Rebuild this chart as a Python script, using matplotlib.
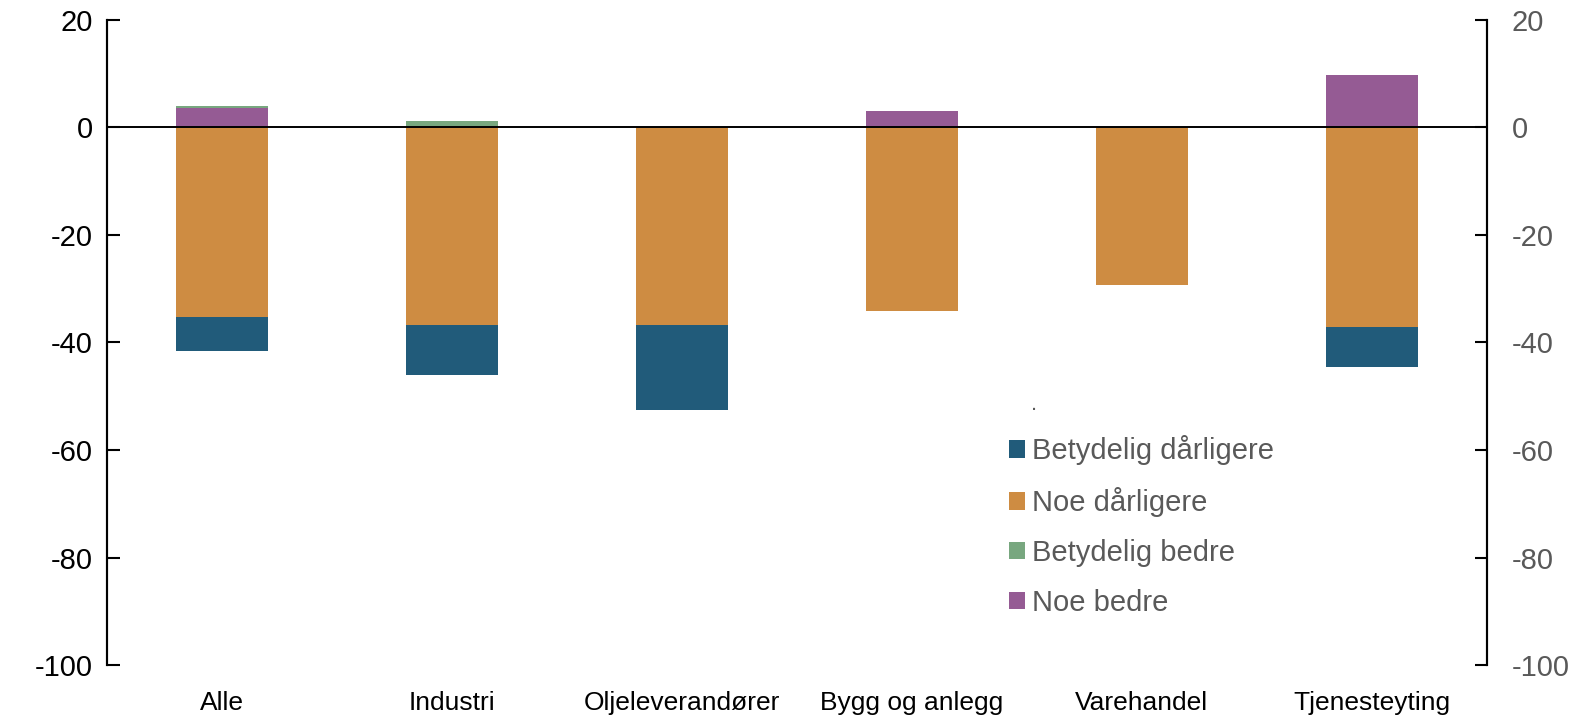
import matplotlib.pyplot as plt
import numpy as np

plt.rcParams['font.family'] = ['Liberation Sans', 'DejaVu Sans']
plt.rcParams['axes.unicode_minus'] = False

categories = ["Alle", "Industri", "Oljeleverandører", "Bygg og anlegg", "Varehandel", "Tjenesteyting"]
betydelig_darligere = [-6.2, -9.2, -15.8, 0.0, 0.0, -7.3]
noe_darligere = [-35.3, -36.8, -36.8, -34.2, -29.4, -37.2]
betydelig_bedre = [0.4, 1.2, 0.0, 0.0, 0.0, 0.0]
noe_bedre = [3.6, 0.0, 0.0, 3.0, 0.0, 9.8]

c_blue = "#215b7a"
c_orange = "#ce8c42"
c_green = "#78a77f"
c_purple = "#955b94"

fig = plt.figure(figsize=(15.87, 7.16), dpi=100)
ax = fig.add_axes([0.0672, 0.0712, 0.8696, 0.901])

x = np.arange(len(categories))
w = 0.4

nb = np.array(noe_bedre)
nd = np.array(noe_darligere)
ax.bar(x, betydelig_darligere, w, bottom=nd, color=c_blue, label="Betydelig dårligere")
ax.bar(x, noe_darligere, w, color=c_orange, label="Noe dårligere")
ax.bar(x, betydelig_bedre, w, bottom=nb, color=c_green, label="Betydelig bedre")
ax.bar(x, noe_bedre, w, color=c_purple, label="Noe bedre")

ax.axhline(0, color="black", lw=1.4)

ax.set_xlim(-0.5, len(categories) - 0.5)
ax.set_ylim(-100, 20)
ax.set_yticks(range(-100, 21, 20))
ax.set_xticks(x)
ax.set_xticklabels(categories, fontsize=19)
ax.tick_params(axis='x', length=0, pad=19)
ax.tick_params(axis='y', direction='in', length=9, width=1.5, labelsize=21, pad=10)

ax2 = ax.twinx()
ax2.set_ylim(-100, 20)
ax2.set_yticks(range(-100, 21, 20))
ax2.tick_params(axis='y', direction='in', length=9, width=1.5, labelsize=21,
                labelcolor="#595959", pad=18)

for a in (ax, ax2):
    a.spines['top'].set_visible(False)
    a.spines['bottom'].set_visible(False)
    a.spines['left'].set_linewidth(1.5)
    a.spines['right'].set_linewidth(1.5)

leg = ax.legend(loc='upper left', bbox_to_anchor=(0.6264, 0.4125), bbox_transform=fig.transFigure,
                frameon=False, borderpad=0, fontsize=21, handlelength=0.55, handleheight=0.55,
                handletextpad=0.25, labelspacing=0.75, labelcolor="#595959")
fig.text(1031 / 1587, 1 - 404 / 716, ".", color="#595959", fontsize=16, va='center')

fig.savefig("out.png", dpi=100)
